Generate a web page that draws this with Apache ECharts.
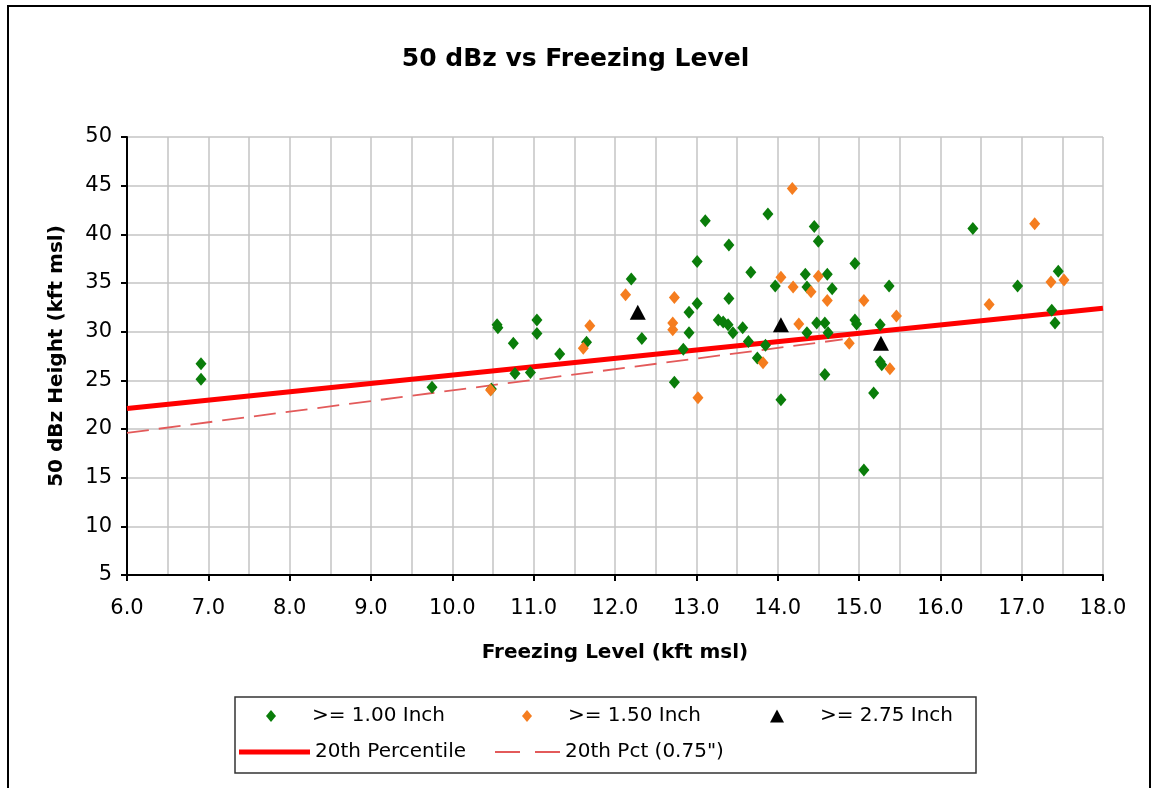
<!DOCTYPE html>
<html>
<head>
<meta charset="utf-8">
<script src="https://cdn.jsdelivr.net/npm/echarts@6/dist/echarts.min.js"></script>
<style>
html,body{margin:0;padding:0;background:#fff;}
#chart{width:1151px;height:788px;}
</style>
</head>
<body>
<div id="chart"></div>
<script>
// >= 1.00 Inch  [freezing level, 50 dBz height]
var green100 = [
  [6.91,26.7],[6.91,25.1],[9.75,24.3],[10.48,24.1],[10.55,30.7],[10.56,30.4],
  [10.75,28.8],[10.77,25.7],[10.96,25.8],[11.04,31.2],[11.04,29.8],[11.32,27.7],
  [11.65,28.9],[12.20,35.4],[12.33,29.3],[12.73,24.8],[12.84,28.2],[12.91,32.0],
  [12.91,29.9],[13.01,37.2],[13.01,32.9],[13.11,41.4],[13.27,31.2],[13.33,31.0],
  [13.39,30.7],[13.40,38.9],[13.40,33.4],[13.45,29.9],[13.57,30.4],[13.64,29.0],
  [13.67,36.1],[13.75,27.3],[13.85,28.6],[13.88,42.1],[13.97,34.7],[14.04,23.0],
  [14.34,35.9],[14.36,34.6],[14.36,29.9],[14.45,40.8],[14.50,39.3],[14.48,30.9],
  [14.58,30.9],[14.58,25.6],[14.61,35.9],[14.62,29.9],[14.67,34.4],[14.95,37.0],
  [14.95,31.2],[14.97,30.8],[15.06,15.8],[15.18,23.7],[15.26,30.7],[15.26,26.9],
  [15.28,26.6],[15.37,34.7],[16.40,40.6],[16.95,34.7],[17.37,32.2],[17.41,30.9],
  [17.45,36.2]
];
// >= 1.50 Inch
var orange150 = [
  [10.47,24.0],[11.61,28.3],[11.69,30.6],[12.13,33.8],[12.73,33.5],[12.71,30.9],
  [12.71,30.2],[13.02,23.2],[13.82,26.8],[14.04,35.6],[14.18,44.7],[14.19,34.6],
  [14.26,30.8],[14.41,34.1],[14.50,35.7],[14.61,33.2],[14.88,28.8],[15.06,33.2],
  [15.38,26.2],[15.46,31.6],[16.60,32.8],[17.16,41.1],[17.36,35.1],[17.52,35.3]
];
// >= 2.75 Inch
var black275 = [[12.28,32.0],[14.04,30.7],[15.27,28.8]];
// trend lines
var pct20 = [[6.0,22.1],[18.0,32.4]];
var pct20_075 = [[6.0,19.6],[14.8,29.2]];

var seriesNames = ['>= 1.00 Inch','>= 1.50 Inch','>= 2.75 Inch','20th Percentile','20th Pct (0.75")'];
var titleText = '50 dBz vs Freezing Level';
var xName = 'Freezing Level (kft msl)';
var yName = '50 dBz Height (kft msl)';

var FONT = 'DejaVu Sans';
var chart = echarts.init(document.getElementById('chart'));
var gridColor = '#c4c4c4';
var solidRed = '#ff0000';
var dashRed = '#e35a5a';

function legendItem(name, left, top, icon, w, h, pad, color) {
  var l = {
    data: [name], left: left, top: top, orient: 'horizontal',
    icon: icon, itemWidth: w, itemHeight: h, padding: 0, selectedMode: false,
    textStyle: {fontFamily: FONT, fontSize: 20, color: '#000', padding: [0,0,0,pad]}
  };
  if (color) { l.itemStyle = {color: color, borderWidth: 0}; l.lineStyle = {width: 0}; }
  return l;
}

chart.setOption({
  backgroundColor: '#fff',
  animation: false,
  title: {
    text: titleText, left: 'center', top: 42,
    textStyle: {fontFamily: FONT, fontSize: 25, fontWeight: 'bold', color: '#000'}
  },
  grid: {left: 127, right: 48, top: 137, bottom: 213, containLabel: false},
  xAxis: {
    type: 'value', min: 6, max: 18, interval: 1,
    name: xName, nameLocation: 'middle', nameGap: 68,
    nameTextStyle: {fontFamily: FONT, fontSize: 20, fontWeight: 'bold', color: '#000'},
    axisLine: {show: true, onZero: false, lineStyle: {color: '#000', width: 2}},
    axisTick: {show: true, inside: false, length: 6, lineStyle: {color: '#000', width: 2}},
    axisLabel: {fontFamily: FONT, fontSize: 21, color: '#000', margin: 23,
      formatter: function (v) { return v.toFixed(1); }},
    splitLine: {show: true, lineStyle: {color: gridColor, width: 1.5}},
    minorTick: {show: false, splitNumber: 2},
    minorSplitLine: {show: true, lineStyle: {color: gridColor, width: 1.5}}
  },
  yAxis: {
    type: 'value', min: 5, max: 50, interval: 5,
    name: yName, nameLocation: 'middle', nameGap: 60, nameRotate: 90,
    nameTextStyle: {fontFamily: FONT, fontSize: 20, fontWeight: 'bold', color: '#000'},
    axisLine: {show: true, onZero: false, lineStyle: {color: '#000', width: 2}},
    axisTick: {show: true, inside: false, length: 6, lineStyle: {color: '#000', width: 2}},
    axisLabel: {fontFamily: FONT, fontSize: 21, color: '#000', margin: 15},
    splitLine: {show: true, lineStyle: {color: gridColor, width: 1.5}}
  },
  legend: [
    legendItem(seriesNames[0], 266, 706, 'diamond', 10, 12, 31),
    legendItem(seriesNames[1], 522, 706, 'diamond', 10, 12, 31),
    legendItem(seriesNames[2], 770, 706, 'triangle', 14, 13, 31),
    legendItem(seriesNames[3], 239, 742, 'rect', 71, 5, 0, solidRed),
    legendItem(seriesNames[4], 495, 742, 'path://M0,0H25V2H0Z M40,0H65V2H40Z', 65, 2, 0, dashRed)
  ],
  graphic: [
    {type: 'rect', z: 100, silent: true,
      shape: {x: 8, y: 6, width: 1142, height: 800},
      style: {fill: null, stroke: '#000', lineWidth: 2}},
    {type: 'rect', z: 100, silent: true,
      shape: {x: 235, y: 697, width: 741, height: 76},
      style: {fill: null, stroke: '#333', lineWidth: 1.5}}
  ],
  series: [
    {name: seriesNames[3], type: 'line', data: pct20, symbol: 'none', z: 2,
      lineStyle: {color: solidRed, width: 5}, itemStyle: {color: solidRed}},
    {name: seriesNames[4], type: 'line', data: pct20_075, symbol: 'none', z: 2,
      lineStyle: {color: dashRed, width: 1.8, type: [22, 10]}, itemStyle: {color: dashRed}},
    {name: seriesNames[0], type: 'scatter', data: green100, symbol: 'diamond',
      symbolSize: [11, 13], itemStyle: {color: '#0a7d0a', opacity: 1}, z: 3},
    {name: seriesNames[1], type: 'scatter', data: orange150, symbol: 'diamond',
      symbolSize: [11, 13], itemStyle: {color: '#f57d1f', opacity: 1}, z: 4},
    {name: seriesNames[2], type: 'scatter', data: black275, symbol: 'triangle',
      symbolSize: [16, 15], itemStyle: {color: '#000', opacity: 1}, z: 5}
  ]
});
</script>
</body>
</html>
